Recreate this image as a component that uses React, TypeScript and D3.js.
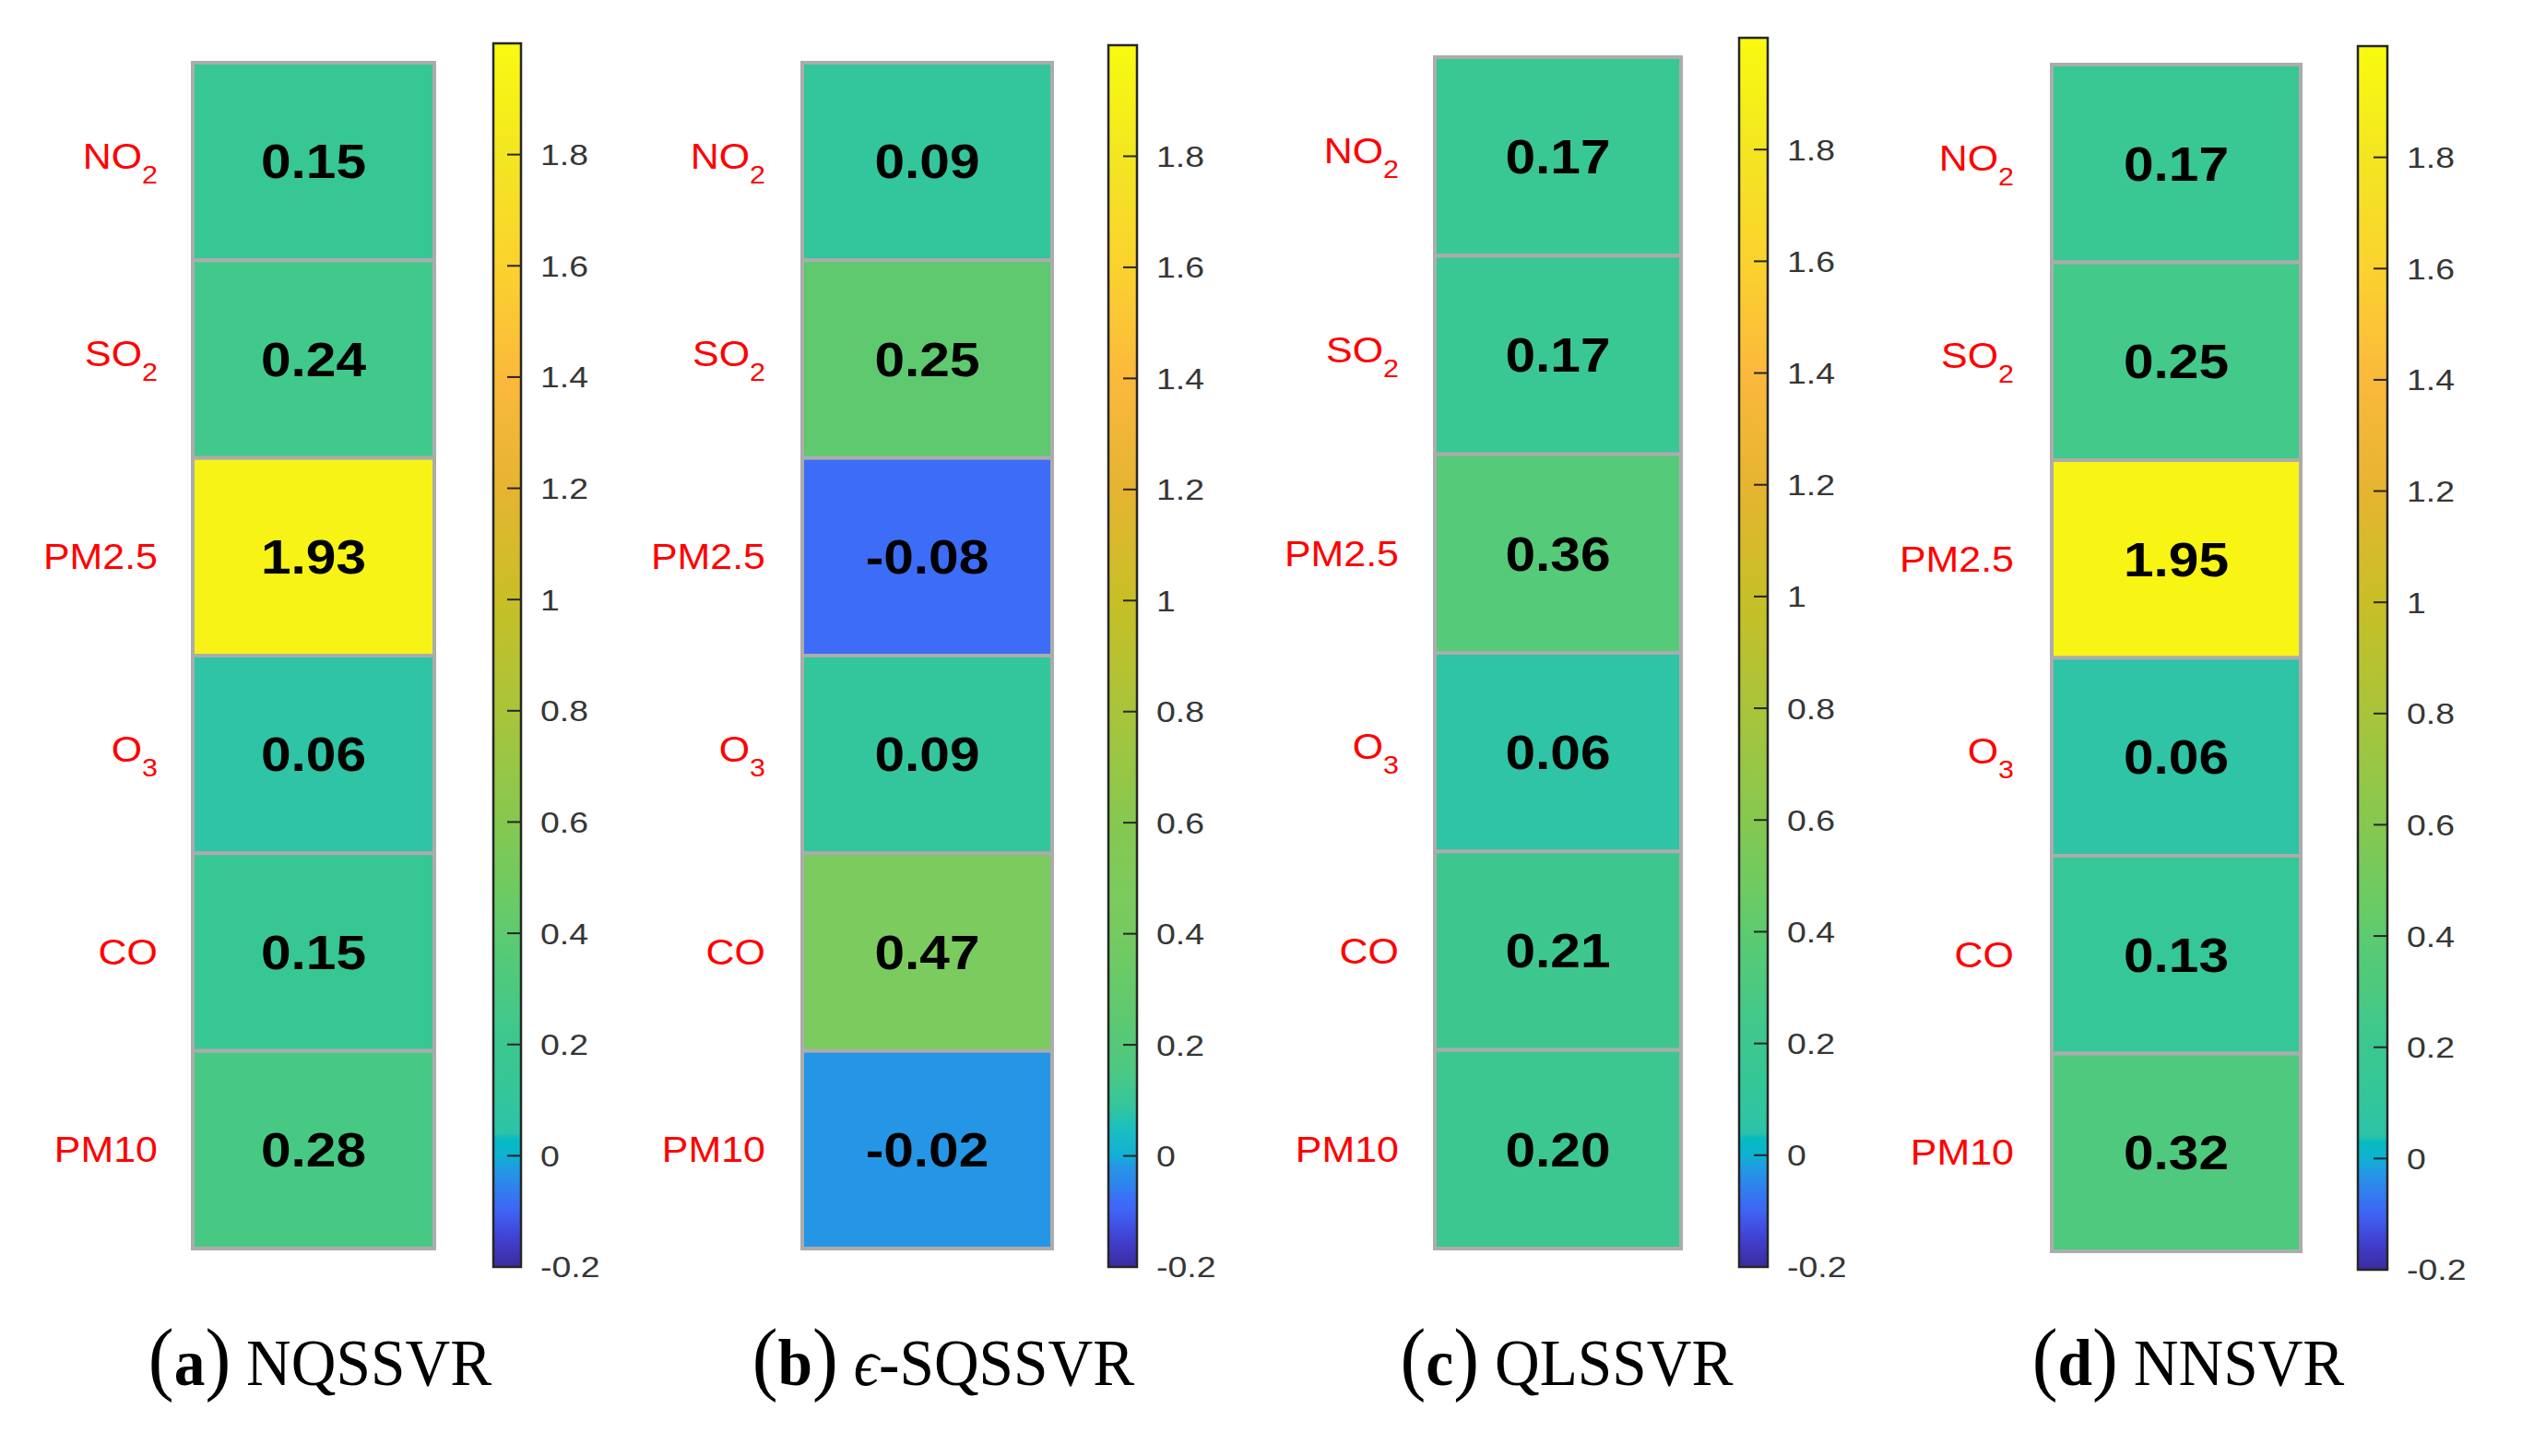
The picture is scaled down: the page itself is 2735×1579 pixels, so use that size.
import React from "react";
import * as d3 from "d3";

// ---------- data ----------
const pollutantNames = ["NO", "SO", "PM2.5", "O", "CO", "PM10"];
const pollutantSubs = ["2", "2", "", "3", "", ""];
const panelLetters = ["a", "b", "c", "d"];
const modelPrefixItalic = ["", "ϵ", "", ""];
const modelNames = ["NQSSVR", "-SQSSVR", "QLSSVR", "NNSVR"];
const nqssvrValues = [0.15, 0.24, 1.93, 0.06, 0.15, 0.28];
const sqssvrValues = [0.09, 0.25, -0.08, 0.09, 0.47, -0.02];
const qlssvrValues = [0.17, 0.17, 0.36, 0.06, 0.21, 0.2];
const nnsvrValues = [0.17, 0.25, 1.95, 0.06, 0.13, 0.32];
const colorbarTicks = [-0.2, 0, 0.2, 0.4, 0.6, 0.8, 1, 1.2, 1.4, 1.6, 1.8];
const colorLimits = [-0.2, 2.0];

// ---------- styles ----------
const upperStops: [number, string][] = [
  [0.6, "#86c850"],
  [0.8, "#a9c43a"],
  [1.0, "#c8bf26"],
  [1.2, "#e6b431"],
  [1.4, "#fbb93c"],
  [1.6, "#fbd22e"],
  [1.8, "#f3e621"],
  [2.0, "#f9fa10"],
];
const stopsMain: [number, string][] = [
  [-0.2, "#3b2b9e"],
  [-0.15, "#4140d0"],
  [-0.1, "#3f63f5"],
  [-0.05, "#2d86ec"],
  [-0.02, "#1f9de2"],
  [0.0, "#0eb2d0"],
  [0.03, "#05bbc2"],
  [0.04, "#2cc2a8"],
  [0.06, "#2ec4a5"],
  [0.1, "#33c69c"],
  [0.15, "#37c795"],
  [0.2, "#3bc78f"],
  [0.25, "#43c98a"],
  [0.3, "#4cc97f"],
  [0.36, "#55ca78"],
  [0.45, "#68cb66"],
  ...upperStops,
];
const stopsB: [number, string][] = [
  [-0.2, "#3b2b9e"],
  [-0.15, "#4140d0"],
  [-0.1, "#3f63f5"],
  [-0.08, "#3d6cf7"],
  [-0.05, "#2d86ec"],
  [-0.02, "#2596e5"],
  [0.0, "#12b0d6"],
  [0.05, "#1bbfbf"],
  [0.09, "#33c69c"],
  [0.15, "#4cc884"],
  [0.25, "#5ec96f"],
  [0.4, "#76ca60"],
  [0.47, "#7ccb5e"],
  ...upperStops,
];

const panels = [
  { values: nqssvrValues, stops: stopsMain, hx0: 209, hx1: 471, hy0: 68, hy1: 1354, cx0: 535, cx1: 565, cy0: 47, cy1: 1374, labelX: 171, capX: 347 },
  { values: sqssvrValues, stops: stopsB, hx0: 870, hx1: 1141, hy0: 68, hy1: 1354, cx0: 1202, cx1: 1233, cy0: 49, cy1: 1374, labelX: 830, capX: 1023 },
  { values: qlssvrValues, stops: stopsMain, hx0: 1556, hx1: 1823, hy0: 62, hy1: 1354, cx0: 1886, cx1: 1917, cy0: 41, cy1: 1374, labelX: 1517, capX: 1699 },
  { values: nnsvrValues, stops: stopsMain, hx0: 2225, hx1: 2495, hy0: 70, hy1: 1357, cx0: 2557, cx1: 2589, cy0: 50, cy1: 1377, labelX: 2184, capX: 2373 },
];

const SANS = "'Liberation Sans', Arial, sans-serif";
const SERIF = "'Liberation Serif', 'Times New Roman', serif";

function Panel({ p, idx }: { p: (typeof panels)[number]; idx: number }) {
  const rows = d3.range(pollutantNames.length);
  const yBand = d3.scaleBand<number>().domain(rows).range([p.hy0, p.hy1]).padding(0);
  const cb = d3.scaleLinear().domain(colorLimits).range([p.cy1, p.cy0]);
  const color = d3
    .scaleLinear<string>()
    .domain(p.stops.map((s) => s[0]))
    .range(p.stops.map((s) => s[1]))
    .interpolate(d3.interpolateRgb)
    .clamp(true);
  const gid = `cbgrad${idx}`;
  const span = colorLimits[1] - colorLimits[0];
  const bw = yBand.bandwidth();
  const cxMid = (p.hx0 + p.hx1) / 2;
  return (
    <g>
      <defs>
        <linearGradient id={gid} x1="0" y1="1" x2="0" y2="0">
          {p.stops.map(([v, c], i) => (
            <stop key={i} offset={`${((v - colorLimits[0]) / span) * 100}%`} stopColor={c} />
          ))}
        </linearGradient>
      </defs>
      {p.values.map((v, i) => (
        <rect
          key={`c${i}`}
          x={p.hx0}
          y={yBand(i)}
          width={p.hx1 - p.hx0}
          height={bw}
          fill={color(v)}
          stroke="#acacac"
          strokeWidth={4}
        />
      ))}
      {p.values.map((v, i) => {
        const cy = (yBand(i) as number) + bw / 2;
        return (
          <text
            key={`v${i}`}
            transform={`translate(${cxMid},${cy + 0.358 * 51}) scale(1.15,1)`}
            textAnchor="middle"
            fontFamily={SANS}
            fontWeight="bold"
            fontSize={51}
            fill="#000"
          >
            {v.toFixed(2)}
          </text>
        );
      })}
      {pollutantNames.map((name, i) => {
        const cy = (yBand(i) as number) + bw / 2;
        const sub = pollutantSubs[i];
        const base = cy + 0.358 * 38 - (sub ? 6 : 0);
        return (
          <text
            key={`l${i}`}
            transform={`translate(${p.labelX},${base}) scale(1.13,1)`}
            textAnchor="end"
            fontFamily={SANS}
            fontSize={38}
            fill="#ff0000"
          >
            {name}
            {sub ? (
              <tspan fontSize={27} dy={16}>
                {sub}
              </tspan>
            ) : null}
          </text>
        );
      })}
      <rect
        x={p.cx0}
        y={p.cy0}
        width={p.cx1 - p.cx0}
        height={p.cy1 - p.cy0}
        fill={`url(#${gid})`}
        stroke="#262626"
        strokeWidth={2.5}
      />
      {colorbarTicks.map((t, i) => (
        <g key={`t${i}`}>
          {i > 0 ? (
            <line x1={p.cx1 - 15} x2={p.cx1} y1={cb(t)} y2={cb(t)} stroke="#262626" strokeWidth={2} />
          ) : null}
          <text
            transform={`translate(${p.cx1 + 21},${cb(t) + 0.358 * 32}) scale(1.17,1)`}
            fontFamily={SANS}
            fontSize={32}
            fill="#363636"
          >
            {String(+t.toFixed(1))}
          </text>
        </g>
      ))}
      <text
        transform={`translate(${p.capX},1502) scale(0.95,1)`}
        textAnchor="middle"
        fontFamily={SERIF}
        fontSize={71}
        fill="#000"
      >
        <tspan fontSize={88}>(</tspan>
        <tspan fontWeight="bold">{panelLetters[idx]}</tspan>
        <tspan fontSize={88}>)</tspan>
        <tspan> </tspan>
        {modelPrefixItalic[idx] ? <tspan fontStyle="italic">{modelPrefixItalic[idx]}</tspan> : null}
        <tspan>{modelNames[idx]}</tspan>
      </text>
    </g>
  );
}

export default function App() {
  return (
    <svg
      width={2735}
      height={1579}
      viewBox="0 0 2735 1579"
      style={{ position: "absolute", left: 0, top: 0, background: "#fff" }}
    >
      <rect x={0} y={0} width={2735} height={1579} fill="#fff" />
      {panels.map((p, i) => (
        <Panel key={i} p={p} idx={i} />
      ))}
    </svg>
  );
}
